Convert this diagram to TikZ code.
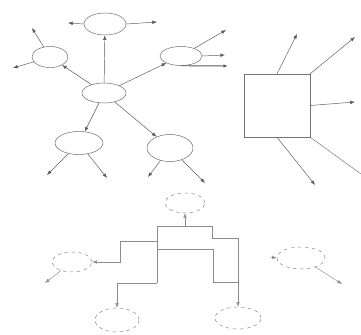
\documentclass[tikz,border=0pt]{standalone}
\usepackage{tikz}
\usetikzlibrary{
  arrows.meta,
  shapes.geometric
}
\begin{document}
\begin{tikzpicture}[x=0.03cm,y=-0.03cm,
  bubble/.style={ellipse,draw=black!60,thin,inner sep=0pt},
  dbubble/.style={bubble,dashed,draw=black!50},
  link/.style={draw=black!65,thin,-{Latex[length=4pt,width=3pt]}},
  wire/.style={draw=black!55,thin},
  tlink/.style={link,draw=black!45},
  twire/.style={wire,draw=black!45}]
\useasboundingbox (0,0) rectangle (361,335);
% spider map
\node[bubble,minimum width=1.32cm,minimum height=0.6cm] (hub) at (104,93){};
\node[bubble,minimum width=1.26cm,minimum height=0.66cm] (top) at (105,24){};
\node[bubble,minimum width=1.08cm,minimum height=0.63cm] (lft) at (50,57){};
\node[bubble,minimum width=1.26cm,minimum height=0.57cm] (rgt) at (181,56){};
\node[bubble,minimum width=1.44cm,minimum height=0.69cm] (bl) at (79,143){};
\node[bubble,minimum width=1.38cm,minimum height=0.81cm] (br) at (170,148){};
\foreach \n in {top,lft,rgt,bl,br} \draw[link] (hub) -- (\n);
\coordinate (t1) at (68,23);  \coordinate (t2) at (157,22);
\coordinate (l1) at (32,28);  \coordinate (l2) at (13,68);
\coordinate (r1) at (226,30); \coordinate (r2) at (225,55); \coordinate (r3) at (228,66);
\coordinate (bl1) at (47,175); \coordinate (bl2) at (107,178);
\coordinate (br1) at (148,177); \coordinate (br2) at (205,183);
\draw[link] (top.west) -- (t1);
\draw[link] (top.east) -- (t2);
\draw[link] (lft) -- (l1);
\draw[link] (lft) -- (l2);
\draw[link] (rgt) -- (r1);
\draw[link] (rgt.east) -- (r2);
\draw[link,line width=0.8pt] (rgt.south) -- (r3);
\foreach \e in {bl1,bl2} \draw[link] (bl) -- (\e);
\foreach \e in {br1,br2} \draw[link] (br) -- (\e);
% box with arrows
\node[draw=black!55,thin,minimum width=1.98cm,minimum height=1.89cm] (box) at (277,105.5){};
\coordinate (s1) at (297,34);  \coordinate (s2) at (355,37);
\coordinate (s3) at (355,102); \coordinate (s4) at (315,185);
\coordinate (s5) at (361,174);
\draw[link] (box.north) -- (s1);
\draw[link] (box.north east) -- (s2);
\draw[link] (box.east) -- (s3);
\draw[link] (box.south) -- (s4);
\draw[wire] (box.south east) -- (s5);
% tree
\node[dbubble,minimum width=1.2cm,minimum height=0.6cm] (root) at (185,203){};
\node[dbubble,minimum width=1.2cm,minimum height=0.6cm] (lt) at (72,262){};
\node[dbubble,minimum width=1.44cm,minimum height=0.66cm] (rt) at (301,258){};
\node[dbubble,minimum width=1.32cm,minimum height=0.72cm] (lb) at (117,320){};
\node[dbubble,minimum width=1.38cm,minimum height=0.66cm] (rb) at (238,318){};
\coordinate (bL) at (157,226); \coordinate (bR) at (212,226);
\coordinate (jA) at (157,241); \coordinate (jB) at (157,249);
\coordinate (jC) at (157,283);
\draw[twire] (bL) -- (bR);
\draw[tlink] (root.south |- bL) -- (root.south);
\draw[twire] (bL) -- (jC);
\draw[tlink] (jA) -- (120,241) -- (120,262) -- (lt.east);
\draw[tlink] (jC) -- (117,283) -- (lb.north);
\draw[twire] (jB) -- (213,249) -- (213,282) -- (238,282);
\draw[tlink] (bR) -- (212,238) -- (238,238) -- (rb.north);
\coordinate (lt1) at (45,283); \coordinate (rt0) at (270,257);
\coordinate (rt1) at (342,284);
\draw[tlink] (lt) -- (lt1);
\draw[tlink] (rt0) -- (rt.west);
\draw[tlink] (rt) -- (rt1);
\end{tikzpicture}
\end{document}
